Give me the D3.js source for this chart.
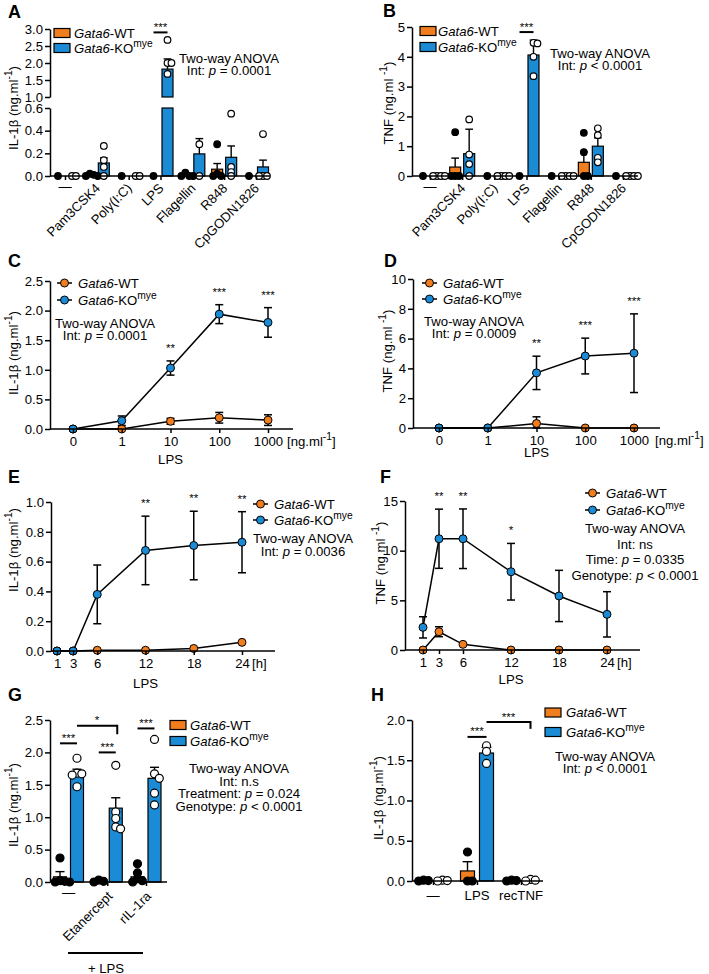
<!DOCTYPE html>
<html>
<head>
<meta charset="utf-8">
<script src="https://cdn.jsdelivr.net/npm/d3@7"></script>
<style>
  body{margin:0;background:#fff;}
  svg text{font-family:"Liberation Sans",Arial,Helvetica,sans-serif;fill:#000;}
</style>
</head>
<body>
<svg id="fig" width="709" height="974"></svg>
<script>
(function(){
  const WT_COLOR = '#F07D1E';
  const KO_COLOR = '#1C8BD6';
  const FONT = '"Liberation Sans",Arial,Helvetica,sans-serif';

  // ---- A / B : TLR agonists
  const stimAB = ['—','Pam3CSK4','Poly(I:C)','LPS','Flagellin','R848','CpGODN1826'];
  const il1bWtMeanA = [0, 0.01, 0, 0, 0.01, 0.06, 0];
  const il1bWtSemA  = [0, 0.005, 0, 0, 0.008, 0.05, 0];
  const il1bKoMeanA = [0, 0.115, 0, 1.82, 0.195, 0.165, 0.08];
  const il1bKoSemA  = [0, 0.045, 0, 0.30, 0.135, 0.10, 0.06];
  const il1bWtDotsA = [[0],[0.02,0.01,0,0],[0],[0],[0,0,0.03,0],[0.28,0.02,0,0],[0]];
  const il1bKoDotsA = [[0,0],[0.265,0.14,0.08,0],[0,0],[2.68,2.0,2.0,1.68],[0.28,0],[0.55,0.08,0.035,0],[0.37,0,0,0]];
  const ticksALow  = [0, 0.2, 0.4, 0.6];
  const ticksAHigh = [1.0, 1.5, 2.0, 2.5, 3.0];

  const tnfWtMeanB = [0, 0.3, 0, 0, 0, 0.46, 0];
  const tnfWtSemB  = [0, 0.3, 0, 0, 0, 0.35, 0];
  const tnfKoMeanB = [0, 0.75, 0, 4.06, 0, 1.0, 0];
  const tnfKoSemB  = [0, 0.82, 0, 0.5, 0, 0.28, 0];
  const tnfWtDotsB = [[0],[1.47,0,0,0],[0],[0],[0],[1.45,0.8,0,0],[0]];
  const tnfKoDotsB = [[0,0,0,0],[1.9,0.72,0.4,0],[0,0,0,0],[4.47,4.45,4.0,3.35],[0,0,0,0],[1.6,1.37,0.61,0.46],[0,0,0,0]];
  const ticksB = [0, 1, 2, 3, 4, 5];

  // ---- C / D : LPS dose
  const dosesCD = ['0','1','10','100','1000'];
  const il1bWtC    = [0, 0, 0.13, 0.19, 0.15];
  const il1bWtSemC = [0, 0, 0.05, 0.09, 0.09];
  const il1bKoC    = [0, 0.14, 1.03, 1.94, 1.80];
  const il1bKoSemC = [0, 0.08, 0.12, 0.16, 0.25];
  const sigC = ['', '', '**', '***', '***'];
  const ticksC = [0, 0.5, 1.0, 1.5, 2.0, 2.5];

  const tnfWtD    = [0, 0, 0.3, 0, 0];
  const tnfWtSemD = [0, 0, 0.45, 0, 0];
  const tnfKoD    = [0, 0, 3.7, 4.83, 5.02];
  const tnfKoSemD = [0, 0, 1.12, 1.2, 2.64];
  const sigD = ['', '', '**', '***', '***'];
  const ticksD = [0, 2, 4, 6, 8, 10];

  // ---- E / F : LPS time course
  const hoursEF = [1, 3, 6, 12, 18, 24];
  const il1bWtE    = [0, 0, 0.005, 0.005, 0.017, 0.058];
  const il1bWtSemE = [0, 0, 0, 0, 0, 0];
  const il1bKoE    = [0, 0, 0.38, 0.675, 0.708, 0.73];
  const il1bKoSemE = [0, 0, 0.197, 0.23, 0.23, 0.205];
  const sigE = ['', '', '', '**', '**', '**'];
  const ticksE = [0, 0.2, 0.4, 0.6, 0.8, 1.0];

  const tnfWtF    = [0, 1.84, 0.57, 0, 0, 0];
  const tnfWtSemF = [0, 0.5, 0, 0, 0, 0];
  const tnfKoF    = [2.28, 11.2, 11.2, 7.88, 5.44, 3.59];
  const tnfKoSemF = [1.07, 2.98, 3.0, 2.85, 2.58, 2.28];
  const sigF = ['', '**', '**', '*', '', ''];
  const ticksF = [0, 5, 10, 15];

  // ---- G : blockers
  const treatG = ['—','Etanercept','rIL-1ra'];
  const il1bWtMeanG = [0.08, 0.01, 0.08];
  const il1bWtSemG  = [0.08, 0.005, 0.07];
  const il1bKoMeanG = [1.67, 1.14, 1.60];
  const il1bKoSemG  = [0.07, 0.16, 0.17];
  const il1bWtDotsG = [[0.37,0.02,0.01,0,0],[0.03,0.01,0],[0.28,0.14,0.05,0.02,0]];
  const il1bKoDotsG = [[1.91,1.68,1.67,1.65,1.47],[1.8,1.08,0.98,0.85,0.82],[2.2,1.67,1.6,1.37,1.19]];
  const ticksG = [0, 0.5, 1.0, 1.5, 2.0, 2.5];

  // ---- H : recombinant TNF
  const treatH = ['—','LPS','recTNF'];
  const il1bWtMeanH = [0.005, 0.125, 0.005];
  const il1bWtSemH  = [0, 0.115, 0];
  const il1bKoMeanH = [0.005, 1.59, 0.01];
  const il1bKoSemH  = [0, 0.07, 0];
  const il1bWtDotsH = [[0.01,0.005,0],[0.36,0,0],[0.01,0.005,0]];
  const il1bKoDotsH = [[0.01,0.005,0],[1.68,1.61,1.46],[0.02,0.01,0]];
  const ticksH = [0, 0.5, 1.0, 1.5, 2.0];

  const svg = d3.select('#fig');
  const f1 = d3.format('.1f');
  const f0 = d3.format('d');

  // calibrate font size so "Two-way ANOVA" is ~100px wide, as in the figure
  const probe = svg.append('text').style('font-size','12.5px').text('Two-way ANOVA');
  const probeLen = probe.node().getComputedTextLength() || 97;
  probe.remove();
  const K = Math.min(1.6, Math.max(0.8, 100/probeLen));
  const FS = 12.5*K, STAR = 11*K, LET = 17*K;

  // text with italic / superscript pieces
  function rich(g, x, y, parts, size, anchor){
    const t = g.append('text').attr('x',x).attr('y',y)
      .style('font-size',size+'px').attr('text-anchor',anchor||'start');
    let back = 0;
    parts.forEach(p=>{
      const s = t.append('tspan').text(p.t);
      if(p.i) s.attr('font-style','italic');
      if(p.sup){ s.attr('dy',-size*0.42).style('font-size',(size*0.78)+'px'); back = size*0.42; }
      else if(back){ s.attr('dy',back); back = 0; }
    });
    return t;
  }
  const wtParts = [{t:'Gata6',i:true},{t:'-WT'}];
  const koParts = [{t:'Gata6',i:true},{t:'-KO'},{t:'mye',sup:true}];

  function label(g, x, y, s, anchor){
    return g.append('text').attr('x',x).attr('y',y).attr('text-anchor',anchor||'middle')
      .style('font-size',FS+'px').text(s);
  }

  function yLabel(g, x, y, parts){
    const t = rich(g, 0, 0, parts, FS, 'middle');
    t.attr('transform',`translate(${x},${y}) rotate(-90)`);
  }

  function styleAxis(ax){
    ax.attr('font-family',FONT).attr('font-size',null);
    ax.select('.domain').attr('stroke','#000').attr('stroke-width',1.5);
    ax.selectAll('.tick line').attr('stroke','#000').attr('stroke-width',1.5);
    ax.selectAll('.tick text').attr('fill','#000').style('font-size',FS+'px');
  }
  function yAxis(g, scale, x, ticks, fmt){
    const ax = g.append('g').attr('transform',`translate(${x},0)`)
      .call(d3.axisLeft(scale).tickValues(ticks).tickFormat(fmt).tickSize(5).tickSizeOuter(0).tickPadding(2));
    styleAxis(ax);
  }
  function xAxis(g, scale, ticks, y, x0, x1, withLabels){
    const a = d3.axisBottom(scale).tickSize(4).tickSizeOuter(0).tickPadding(4);
    if(ticks) a.tickValues(ticks);
    if(!withLabels) a.tickFormat('');
    const ax = g.append('g').attr('transform',`translate(0,${y})`).call(a);
    styleAxis(ax);
    ax.select('.domain').remove();
    ax.append('line').attr('x1',x0).attr('x2',x1).attr('stroke','#000').attr('stroke-width',1.5);
  }

  function panelLetter(x, y, s){
    svg.append('text').attr('x',x).attr('y',y).style('font-size',LET+'px').attr('font-weight','bold').text(s);
  }

  function lines(g, cx, y0, rows, step){
    rows.forEach((r,i)=> rich(g, cx, y0 + i*step, r, FS, 'middle'));
  }

  // beeswarm-like horizontal spread of overlapping dots
  function swarm(vals, cx, yf, r){
    const placed = [];
    const step = r*1.2;
    vals.map(v=>v).sort((a,b)=>b-a).forEach(v=>{
      const py = yf(v);
      for(let k=0;k<30;k++){
        const off = k===0 ? 0 : (k%2 ? 1 : -1)*Math.ceil(k/2)*step;
        const px = cx + off;
        if(!placed.some(p=>Math.hypot(p.x-px, p.y-py) < step*0.99)){ placed.push({x:px,y:py}); break; }
      }
    });
    return placed;
  }

  // grouped bar chart with dots and SEM (up only)
  function barPanel(g, o){
    const segs = o.segs;
    const yf = v=>{
      for(let i=0;i<segs.length;i++){
        const [d0,d1] = segs[i].domain();
        if(v<=d1 || i===segs.length-1) return segs[i](Math.max(v,d0));
      }
    };
    const groups = [
      {mean:o.wtMean, sem:o.wtSem, dots:o.wtDots, dx:-o.off, fill:WT_COLOR, dotFill:'#000'},
      {mean:o.koMean, sem:o.koSem, dots:o.koDots, dx:o.off, fill:KO_COLOR, dotFill:'#fff'}
    ];
    groups.forEach(gr=>{
      o.cats.forEach((c,i)=>{
        const cx = o.x(c)+gr.dx, m = gr.mean[i];
        if(m<=0) return;
        segs.forEach(s=>{
          const [d0,d1] = s.domain();
          if(m>d0){
            const top = s(Math.min(m,d1)), bot = s(d0);
            g.append('rect').attr('x',cx-o.barW/2).attr('y',top)
              .attr('width',o.barW).attr('height',bot-top)
              .attr('fill',gr.fill).attr('stroke','#000').attr('stroke-width',1.2);
          }
        });
        const e = gr.sem[i];
        if(e>0){
          const yt = yf(m+e), ym = yf(m), cw = o.barW*0.35;
          g.append('line').attr('x1',cx).attr('x2',cx).attr('y1',ym).attr('y2',yt).attr('stroke','#000').attr('stroke-width',1.4);
          g.append('line').attr('x1',cx-cw).attr('x2',cx+cw).attr('y1',yt).attr('y2',yt).attr('stroke','#000').attr('stroke-width',1.4);
        }
      });
    });
    groups.forEach(gr=>{
      o.cats.forEach((c,i)=>{
        swarm(gr.dots[i], o.x(c)+gr.dx, yf, o.r).forEach(p=>{
          g.append('circle').attr('cx',p.x).attr('cy',p.y).attr('r',o.r)
            .attr('fill',gr.dotFill).attr('stroke','#000').attr('stroke-width',1.2);
        });
      });
    });
    return yf;
  }

  function rotLabels(g, cats, x, axisY, dx, dy){
    cats.forEach(c=>{
      if(c==='—'){
        label(g, x(c), axisY+15, c);
      } else {
        g.append('text').attr('transform',`translate(${x(c)+dx},${axisY+dy}) rotate(-45)`)
          .attr('text-anchor','end').style('font-size',FS+'px').text(c);
      }
    });
  }

  function sigLine(g, x1, x2, yl, lab, tickTo){
    g.append('line').attr('x1',x1).attr('x2',x2).attr('y1',yl).attr('y2',yl).attr('stroke','#000').attr('stroke-width',2);
    if(tickTo!=null) g.append('line').attr('x1',x2).attr('x2',x2).attr('y1',yl-1).attr('y2',tickTo).attr('stroke','#000').attr('stroke-width',2);
    g.append('text').attr('x',(x1+x2)/2).attr('y',yl-1.5).attr('text-anchor','middle').style('font-size',STAR+'px').text(lab);
  }

  function rectLegend(g, x, y, tx, color, parts){
    g.append('rect').attr('x',x).attr('y',y).attr('width',16).attr('height',9)
      .attr('fill',color).attr('stroke','#000').attr('stroke-width',1.2);
    rich(g, tx, y+9, parts, FS);
  }
  function lineLegend(g, x, y, color, parts){
    g.append('line').attr('x1',x).attr('x2',x+15).attr('y1',y).attr('y2',y).attr('stroke','#000').attr('stroke-width',1.5);
    g.append('circle').attr('cx',x+7.5).attr('cy',y).attr('r',4).attr('fill',color).attr('stroke','#000').attr('stroke-width',1);
    rich(g, x+21, y+4.5, parts, FS);
  }

  // line chart with mean +/- SEM
  function linePanel(g, o){
    const series = [
      {mean:o.wt, sem:o.wtSem, color:WT_COLOR},
      {mean:o.ko, sem:o.koSem, color:KO_COLOR}
    ];
    series.forEach(s=>{
      const pts = o.keys.map((k,i)=>[o.x(k), o.y(s.mean[i])]);
      g.append('path').attr('d', d3.line()(pts)).attr('fill','none').attr('stroke','#000').attr('stroke-width',1.5);
    });
    series.forEach(s=>{
      o.keys.forEach((k,i)=>{
        const e = s.sem[i]; if(!(e>0)) return;
        const cx = o.x(k), m = s.mean[i];
        const yt = o.y(m+e), yb = o.y(Math.max(0,m-e));
        g.append('line').attr('x1',cx).attr('x2',cx).attr('y1',yb).attr('y2',yt).attr('stroke','#000').attr('stroke-width',1.5);
        [yt,yb].forEach(yy=> g.append('line').attr('x1',cx-4).attr('x2',cx+4).attr('y1',yy).attr('y2',yy).attr('stroke','#000').attr('stroke-width',1.5));
      });
    });
    series.forEach(s=>{
      o.keys.forEach((k,i)=>{
        g.append('circle').attr('cx',o.x(k)).attr('cy',o.y(s.mean[i])).attr('r',4)
          .attr('fill',s.color).attr('stroke','#000').attr('stroke-width',1);
      });
    });
    o.keys.forEach((k,i)=>{
      if(!o.sig[i]) return;
      const top = o.y(o.ko[i]+o.koSem[i]);
      g.append('text').attr('x',o.x(k)).attr('y',top-9).attr('text-anchor','middle').style('font-size',STAR+'px').text(o.sig[i]);
    });
  }

  const il1bLabel = [{t:'IL-1β (ng.ml'},{t:'-1',sup:true},{t:')'}];
  const tnfLabel  = [{t:'TNF (ng.ml '},{t:'-1',sup:true},{t:')'}];
  const unitDose  = [{t:'[ng.ml'},{t:'-1',sup:true},{t:']'}];

  // ================= A =================
  {
    const g = svg.append('g');
    const x = d3.scalePoint().domain(stimAB).range([65,256]);
    const low  = d3.scaleLinear().domain([0,0.6]).range([176,108]);
    const high = d3.scaleLinear().domain([1,3]).range([97,29]);
    const yf = barPanel(g, {cats:stimAB, x, segs:[low,high], off:7, barW:11, r:3.3,
      wtMean:il1bWtMeanA, wtSem:il1bWtSemA, koMean:il1bKoMeanA, koSem:il1bKoSemA,
      wtDots:il1bWtDotsA, koDots:il1bKoDotsA});
    yAxis(g, low, 50, ticksALow, f1);
    yAxis(g, high, 50, ticksAHigh, f1);
    xAxis(g, x, null, 176, 50, 270, false);
    rotLabels(g, stimAB, x, 176, 4, 13);
    sigLine(g, x('LPS')-7, x('LPS')+7, yf(2.9), '***');
    rectLegend(g, 54, 28.5, 74, WT_COLOR, wtParts);
    rectLegend(g, 54, 43.5, 74, KO_COLOR, koParts);
    lines(g, 229, 62.8, [[{t:'Two-way ANOVA'}],[{t:'Int: '},{t:'p',i:true},{t:' = 0.0001'}]], 12.4);
    yLabel(g, 17.5, 108, il1bLabel);
    panelLetter(8, 18, 'A');
  }

  // ================= B =================
  {
    const g = svg.append('g');
    const x = d3.scalePoint().domain(stimAB).range([430,623]);
    const y = d3.scaleLinear().domain([0,5]).range([176,27]);
    barPanel(g, {cats:stimAB, x, segs:[y], off:7, barW:11, r:3.3,
      wtMean:tnfWtMeanB, wtSem:tnfWtSemB, koMean:tnfKoMeanB, koSem:tnfKoSemB,
      wtDots:tnfWtDotsB, koDots:tnfKoDotsB});
    yAxis(g, y, 412, ticksB, f0);
    xAxis(g, x, null, 176, 412, 638, false);
    rotLabels(g, stimAB, x, 176, 4, 13);
    sigLine(g, x('LPS')-7, x('LPS')+7, y(4.83), '***');
    rectLegend(g, 420, 26.5, 438, WT_COLOR, wtParts);
    rectLegend(g, 420, 42.5, 438, KO_COLOR, koParts);
    lines(g, 600, 57.8, [[{t:'Two-way ANOVA'}],[{t:'Int: '},{t:'p',i:true},{t:' < 0.0001'}]], 12.4);
    yLabel(g, 392.5, 103, tnfLabel);
    panelLetter(383, 17, 'B');
  }

  // ================= C =================
  {
    const g = svg.append('g');
    const x = d3.scalePoint().domain(dosesCD).range([73,268]);
    const y = d3.scaleLinear().domain([0,2.5]).range([429,281]);
    linePanel(g, {keys:dosesCD, x, y, wt:il1bWtC, wtSem:il1bWtSemC, ko:il1bKoC, koSem:il1bKoSemC, sig:sigC});
    yAxis(g, y, 50, ticksC, f1);
    xAxis(g, x, null, 429, 50, 293, true);
    rich(g, 287, 446, unitDose, FS);
    label(g, x('10'), 464, 'LPS');
    lineLegend(g, 57, 283, WT_COLOR, wtParts);
    lineLegend(g, 57, 300, KO_COLOR, koParts);
    lines(g, 105, 327.8, [[{t:'Two-way ANOVA'}],[{t:'Int: '},{t:'p',i:true},{t:' = 0.0001'}]], 11.8);
    yLabel(g, 17.5, 353, il1bLabel);
    panelLetter(8, 267, 'C');
  }

  // ================= D =================
  {
    const g = svg.append('g');
    const x = d3.scalePoint().domain(dosesCD).range([439,634]);
    const y = d3.scaleLinear().domain([0,10]).range([428,279]);
    linePanel(g, {keys:dosesCD, x, y, wt:tnfWtD, wtSem:tnfWtSemD, ko:tnfKoD, koSem:tnfKoSemD, sig:sigD});
    yAxis(g, y, 413, ticksD, f0);
    xAxis(g, x, null, 428, 413, 660, true);
    rich(g, 655, 445, unitDose, FS);
    label(g, x('10'), 457, 'LPS');
    lineLegend(g, 422, 283, WT_COLOR, wtParts);
    lineLegend(g, 422, 299, KO_COLOR, koParts);
    lines(g, 474, 326, [[{t:'Two-way ANOVA'}],[{t:'Int: '},{t:'p',i:true},{t:' = 0.0009'}]], 11.8);
    yLabel(g, 391.5, 351, tnfLabel);
    panelLetter(384, 267, 'D');
  }

  // ================= E =================
  {
    const g = svg.append('g');
    const x = d3.scaleLinear().domain([0,24]).range([49,242]);
    const y = d3.scaleLinear().domain([0,1]).range([651,502]);
    linePanel(g, {keys:hoursEF, x, y, wt:il1bWtE, wtSem:il1bWtSemE, ko:il1bKoE, koSem:il1bKoSemE, sig:sigE});
    yAxis(g, y, 51, ticksE, f1);
    xAxis(g, x, hoursEF, 651, 51, 275, true);
    label(g, 252, 668, '[h]', 'start');
    label(g, x(12), 688, 'LPS');
    lineLegend(g, 253, 504, WT_COLOR, wtParts);
    lineLegend(g, 253, 520, KO_COLOR, koParts);
    lines(g, 303, 542.8, [[{t:'Two-way ANOVA'}],[{t:'Int: '},{t:'p',i:true},{t:' = 0.0036'}]], 13.4);
    yLabel(g, 17.5, 550, il1bLabel);
    panelLetter(8, 483, 'E');
  }

  // ================= F =================
  {
    const g = svg.append('g');
    const x = d3.scaleLinear().domain([0,24]).range([415,607]);
    const y = d3.scaleLinear().domain([0,15]).range([650,501]);
    linePanel(g, {keys:hoursEF, x, y, wt:tnfWtF, wtSem:tnfWtSemF, ko:tnfKoF, koSem:tnfKoSemF, sig:sigF});
    yAxis(g, y, 405, ticksF, f0);
    xAxis(g, x, hoursEF, 650, 405, 640, true);
    label(g, 617, 667, '[h]', 'start');
    label(g, x(12), 684, 'LPS');
    lineLegend(g, 585, 493, WT_COLOR, wtParts);
    lineLegend(g, 585, 510, KO_COLOR, koParts);
    lines(g, 635, 532.8, [
      [{t:'Two-way ANOVA'}],
      [{t:'Int: ns'}],
      [{t:'Time: '},{t:'p',i:true},{t:' = 0.0335'}],
      [{t:'Genotype: '},{t:'p',i:true},{t:' < 0.0001'}]
    ], 15.8);
    yLabel(g, 384.5, 563, tnfLabel);
    panelLetter(380, 483, 'F');
  }

  // ================= G =================
  {
    const g = svg.append('g');
    const x = d3.scalePoint().domain(treatG).range([68.5,146]);
    const y = d3.scaleLinear().domain([0,2.5]).range([882,720]);
    barPanel(g, {cats:treatG, x, segs:[y], off:8.5, barW:13, r:4,
      wtMean:il1bWtMeanG, wtSem:il1bWtSemG, koMean:il1bKoMeanG, koSem:il1bKoSemG,
      wtDots:il1bWtDotsG, koDots:il1bKoDotsG});
    yAxis(g, y, 50, ticksG, f1);
    xAxis(g, x, null, 882, 50, 167, false);
    rotLabels(g, treatG, x, 882, 6, 15);
    sigLine(g, x('—')-8.5, x('—')+8.5, y(2.14), '***');
    sigLine(g, x('Etanercept')-8.5, x('Etanercept')+8.5, y(2.0), '***');
    sigLine(g, x('rIL-1ra')-8.5, x('rIL-1ra')+8.5, y(2.37), '***');
    sigLine(g, x('—')+8.5, x('Etanercept')+10, y(2.41), '*', y(2.28));
    g.append('line').attr('x1',68).attr('x2',143).attr('y1',953).attr('y2',953).attr('stroke','#000').attr('stroke-width',2);
    label(g, 106, 972.5, '+ LPS');
    rectLegend(g, 170, 720.5, 190, WT_COLOR, wtParts);
    rectLegend(g, 170, 736.5, 190, KO_COLOR, koParts);
    lines(g, 239, 772.8, [
      [{t:'Two-way ANOVA'}],
      [{t:'Int: n.s'}],
      [{t:'Treatment: '},{t:'p',i:true},{t:' = 0.024'}],
      [{t:'Genotype: '},{t:'p',i:true},{t:' < 0.0001'}]
    ], 12.8);
    yLabel(g, 17.5, 805, il1bLabel);
    panelLetter(8, 701, 'G');
  }

  // ================= H =================
  {
    const g = svg.append('g');
    const x = d3.scalePoint().domain(treatH).range([433,521]);
    const y = d3.scaleLinear().domain([0,2]).range([881,720]);
    barPanel(g, {cats:treatH, x, segs:[y], off:9.5, barW:14, r:4,
      wtMean:il1bWtMeanH, wtSem:il1bWtSemH, koMean:il1bKoMeanH, koSem:il1bKoSemH,
      wtDots:il1bWtDotsH, koDots:il1bKoDotsH});
    yAxis(g, y, 412, ticksH, f1);
    xAxis(g, x, null, 881, 412, 543, false);
    treatH.forEach(c=> label(g, x(c), 900, c));
    sigLine(g, x('LPS')-9.5, x('LPS')+9.5, y(1.79), '***');
    sigLine(g, x('LPS')+9.5, x('recTNF')+9.5, y(1.975), '***', y(1.89));
    rectLegend(g, 545, 708, 566, WT_COLOR, wtParts);
    rectLegend(g, 545, 727.5, 566, KO_COLOR, koParts);
    lines(g, 605, 761.2, [[{t:'Two-way ANOVA'}],[{t:'Int: '},{t:'p',i:true},{t:' < 0.0001'}]], 11.6);
    yLabel(g, 382.5, 798, il1bLabel);
    panelLetter(371, 701, 'H');
  }
})();
</script>
</body>
</html>
